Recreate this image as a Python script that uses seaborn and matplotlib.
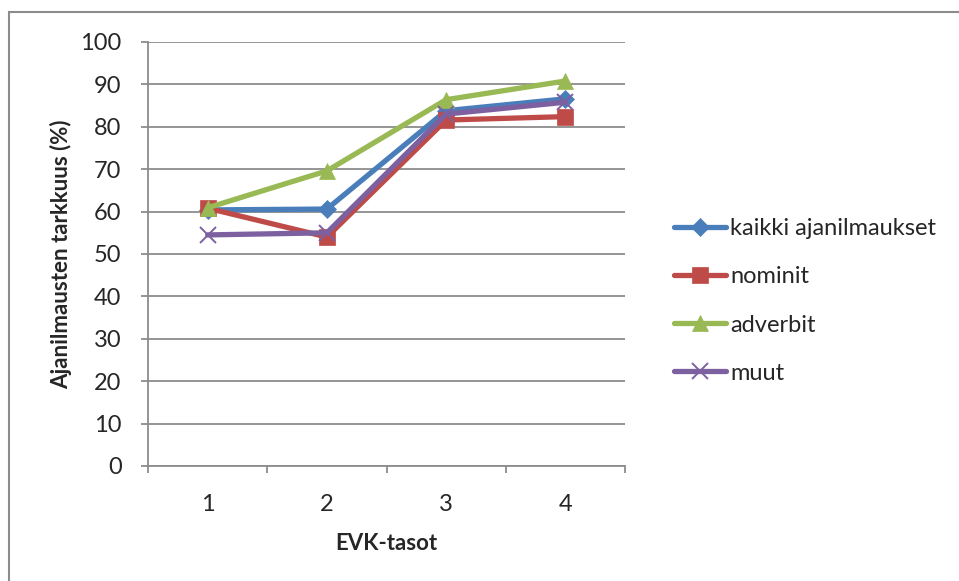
import matplotlib
matplotlib.use("Agg")
import matplotlib.pyplot as plt
import seaborn as sns
import pandas as pd
import numpy as np
from matplotlib.patches import Rectangle

levels = ["1", "2", "3", "4"]
kaikki = [60.4, 60.6, 83.8, 86.6]
nominit = [60.8, 54.0, 81.6, 82.4]
adverbit = [60.9, 69.6, 86.4, 90.8]
muut = [54.5, 55.0, 83.0, 85.8]

series_names = ["kaikki ajanilmaukset", "nominit", "adverbit", "muut"]
series_values = [kaikki, nominit, adverbit, muut]
colors = ["#4A7EBB", "#BE4B48", "#98B954", "#7D60A0"]
markers = ["D", "s", "^", "x"]
marker_sizes = [9.5, 12, 12, 12]

sns.set_style("white")
plt.rcParams["font.family"] = ["Lato", "DejaVu Sans"]

rows = []
for name, vals in zip(series_names, series_values):
    for i, v in enumerate(vals):
        rows.append({"taso": i, "tarkkuus": v, "sarja": name})
df = pd.DataFrame(rows)

fig = plt.figure(figsize=(9.59, 5.81), dpi=100)
ax = fig.add_axes([148 / 959, 1 - 466 / 581, 477 / 959, 424 / 581])

for name, col, mk, ms in zip(series_names, colors, markers, marker_sizes):
    sub = df[df["sarja"] == name]
    sns.lineplot(data=sub, x="taso", y="tarkkuus", ax=ax, color=col,
                 linewidth=3.8, marker=mk, markersize=ms,
                 markeredgecolor=col, markeredgewidth=1.4 if mk == "x" else 0.5,
                 label=name, zorder=3, legend=True)

handles, labels = ax.get_legend_handles_labels()
ax.get_legend().remove()

gray = "#8C8C8C"
ax.set_ylim(0, 100)
ax.set_xlim(-0.5, 3.5)
ax.set_yticks(np.arange(0, 101, 10))
ax.set_xticks(range(len(levels)))
ax.set_xticklabels(levels)
ax.set_xticks(np.arange(-0.5, 3.6, 1), minor=True)
ax.yaxis.grid(True, color=gray, linewidth=1.3, zorder=0)
ax.xaxis.grid(False)
for s in ["top", "right"]:
    ax.spines[s].set_visible(False)
for s in ["left", "bottom"]:
    ax.spines[s].set_color(gray)
    ax.spines[s].set_linewidth(1.3)
ax.tick_params(axis="y", which="major", length=5, width=1.3, color=gray,
               labelsize=17, pad=14, left=True)
ax.tick_params(axis="x", which="major", length=0, labelsize=17, pad=20)
ax.tick_params(axis="x", which="minor", length=5, width=1.3, color=gray, bottom=True)

ax.set_xlabel("EVK-tasot", fontsize=16, fontweight="bold", labelpad=13)
ax.set_ylabel("Ajanilmausten tarkkuus (%)", fontsize=16, fontweight="bold", labelpad=6)

fig.legend(handles, labels, loc="center left",
           bbox_to_anchor=(662 / 959, 1 - 301 / 581),
           frameon=False, fontsize=17, handlelength=2.2,
           handletextpad=0.2, labelspacing=1.15, borderpad=0)

fig.patches.append(Rectangle((9 / 959, -0.05), 1.0, 1 - 12.5 / 581 + 0.05,
                             transform=fig.transFigure, fill=False,
                             edgecolor=gray, linewidth=1.5))

fig.savefig("out.png", dpi=100, facecolor="white")
